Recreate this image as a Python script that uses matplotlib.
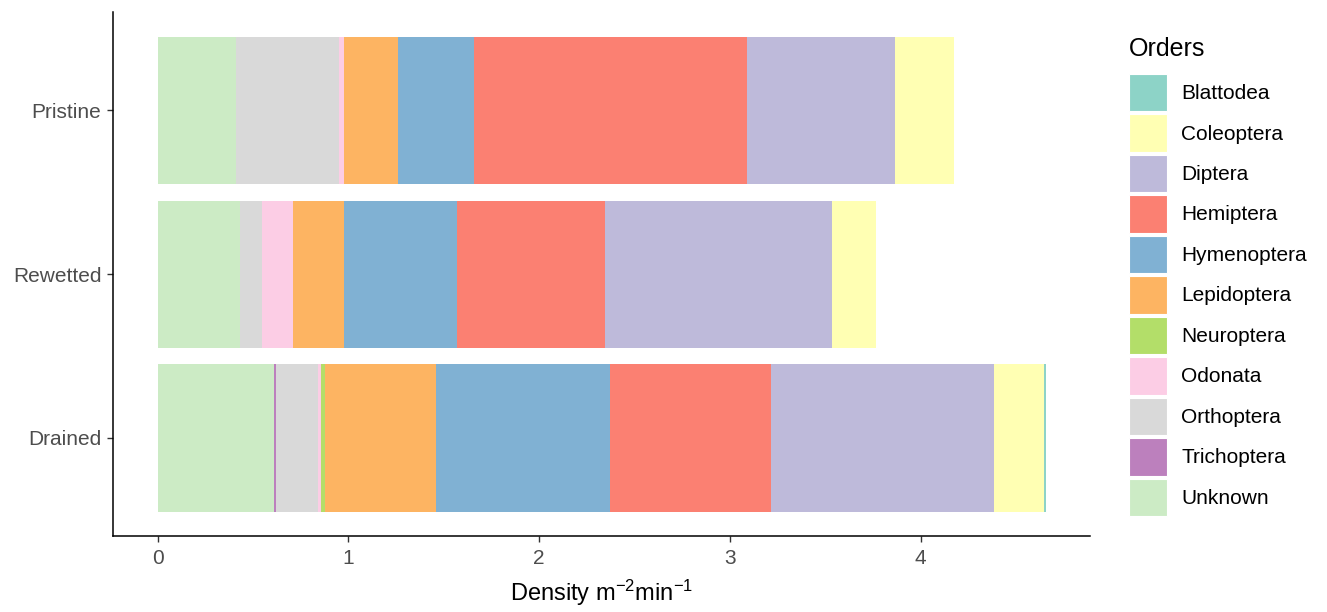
import numpy as np
import matplotlib.pyplot as plt
from matplotlib.patches import Patch

plt.rcParams['font.family'] = ['Liberation Sans', 'DejaVu Sans']
plt.rcParams['mathtext.fontset'] = 'custom'
plt.rcParams['mathtext.rm'] = 'Liberation Sans'
plt.rcParams['mathtext.it'] = 'Liberation Sans'

sites = ['Drained', 'Rewetted', 'Pristine']

# stacking order, left to right
orders = ['Unknown', 'Trichoptera', 'Orthoptera', 'Odonata', 'Neuroptera',
          'Lepidoptera', 'Hymenoptera', 'Hemiptera', 'Diptera', 'Coleoptera',
          'Blattodea']

# values per site: Drained, Rewetted, Pristine
unknown = [0.610, 0.432, 0.411]
trichoptera = [0.010, 0.0, 0.0]
orthoptera = [0.221, 0.115, 0.539]
odonata = [0.014, 0.162, 0.025]
neuroptera = [0.021, 0.0, 0.0]
lepidoptera = [0.581, 0.267, 0.283]
hymenoptera = [0.916, 0.592, 0.401]
hemiptera = [0.843, 0.775, 1.433]
diptera = [1.168, 1.194, 0.775]
coleoptera = [0.264, 0.230, 0.309]
blattodea = [0.010, 0.0, 0.0]

values = {
    'Unknown': unknown, 'Trichoptera': trichoptera, 'Orthoptera': orthoptera,
    'Odonata': odonata, 'Neuroptera': neuroptera, 'Lepidoptera': lepidoptera,
    'Hymenoptera': hymenoptera, 'Hemiptera': hemiptera, 'Diptera': diptera,
    'Coleoptera': coleoptera, 'Blattodea': blattodea,
}

colours = {
    'Blattodea': '#8DD3C7', 'Coleoptera': '#FFFFB3', 'Diptera': '#BEBADA',
    'Hemiptera': '#FB8072', 'Hymenoptera': '#80B1D3', 'Lepidoptera': '#FDB462',
    'Neuroptera': '#B3DE69', 'Odonata': '#FCCDE5', 'Orthoptera': '#D9D9D9',
    'Trichoptera': '#BC80BD', 'Unknown': '#CCEBC5',
}

fig = plt.figure(figsize=(13.27, 6.12), dpi=100)
ax = fig.add_axes([0.0852, 0.124, 0.7362, 0.856])

ypos = np.arange(1, len(sites) + 1)
left = np.zeros(len(sites))
for order in orders:
    v = np.array(values[order])
    ax.barh(ypos, v, left=left, height=0.9, color=colours[order], linewidth=0)
    left += v

ax.set_xlim(-0.233, 4.887)
ax.set_ylim(0.4, 3.6)
ax.set_yticks(ypos)
ax.set_yticklabels(sites)
ax.set_xticks([0, 1, 2, 3, 4])

for s in ['top', 'right']:
    ax.spines[s].set_visible(False)
for s in ['left', 'bottom']:
    ax.spines[s].set_linewidth(1.1)
    ax.spines[s].set_color('black')
ax.tick_params(axis='both', colors='#333333', labelcolor='#4D4D4D',
               labelsize=15, length=4.5, width=1.0)
ax.tick_params(axis='x', pad=5)
ax.tick_params(axis='y', pad=4)

ax.set_xlabel('Density m$^{-2}$min$^{-1}$', fontsize=17, labelpad=7)

legend_order = sorted(orders)
handles = [Patch(facecolor=colours[o], edgecolor='white', linewidth=0.8) for o in legend_order]
leg = fig.legend(handles, legend_order, title='Orders', loc='upper left',
                 bbox_to_anchor=(0.851, 0.94), frameon=False, fontsize=15,
                 title_fontsize=18, handlelength=1.83, handleheight=2.39,
                 labelspacing=0.144, handletextpad=0.67, borderaxespad=0,
                 borderpad=0)
leg._legend_box.align = 'left'
leg._legend_box.sep = 9.5

fig.savefig('out.png', dpi=100)
